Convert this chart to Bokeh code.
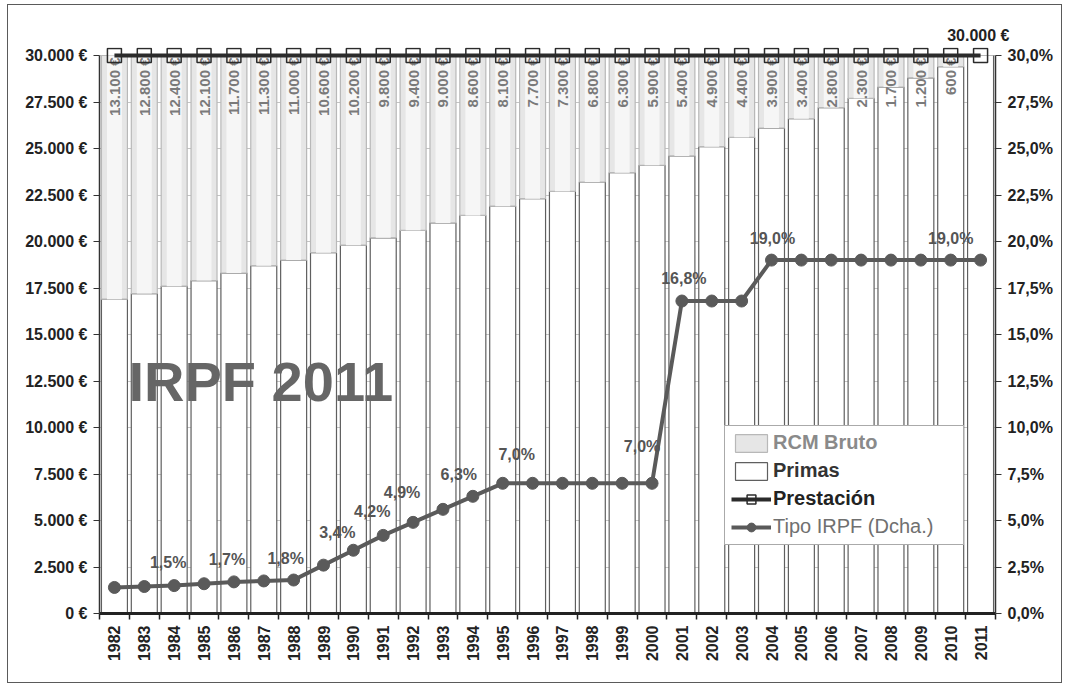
import math
from bokeh.plotting import figure
from bokeh.models import (ColumnDataSource, Range1d, LinearAxis, FixedTicker,
                          CustomJSTickFormatter, Legend, LegendItem, Label, Title)
from bokeh.core.properties import value
from bokeh.embed import file_html
from bokeh.resources import INLINE

# ---------------- data ----------------
years = [str(y) for y in range(1982, 2012)]
primas = [16900, 17200, 17600, 17900, 18300, 18700, 19000, 19400, 19800, 20200,
          20600, 21000, 21400, 21900, 22300, 22700, 23200, 23700, 24100, 24600,
          25100, 25600, 26100, 26600, 27200, 27700, 28300, 28800, 29400, 30000]
rcm_bruto = [13100, 12800, 12400, 12100, 11700, 11300, 11000, 10600, 10200, 9800,
             9400, 9000, 8600, 8100, 7700, 7300, 6800, 6300, 5900, 5400,
             4900, 4400, 3900, 3400, 2800, 2300, 1700, 1200, 600, 0]
prestacion = [30000] * 30
tipo_irpf = [1.4, 1.45, 1.5, 1.6, 1.7, 1.75, 1.8, 2.6, 3.4, 4.2,
             4.9, 5.6, 6.3, 7.0, 7.0, 7.0, 7.0, 7.0, 7.0, 16.8,
             16.8, 16.8, 19.0, 19.0, 19.0, 19.0, 19.0, 19.0, 19.0, 19.0]
tipo_label_years = ["1984", "1986", "1988", "1990", "1991", "1992", "1994",
                    "1995", "2000", "2001", "2004", "2010"]
left_ticks = [0, 2500, 5000, 7500, 10000, 12500, 15000, 17500, 20000,
              22500, 25000, 27500, 30000]
right_ticks = [0.0, 2.5, 5.0, 7.5, 10.0, 12.5, 15.0, 17.5, 20.0, 22.5, 25.0, 27.5, 30.0]

FONT = "Liberation Sans"


def eur(v):
    return f"{v:,}".replace(",", ".") + " €"


def pct(v):
    return f"{v:.1f}".replace(".", ",") + "%"


n = len(years)
x_pos = [i + 0.5 for i in range(n)]
total = [a + b for a, b in zip(primas, rcm_bruto)]

W, H = 1055, 679
MB_L, MB_R, MB_T, MB_B = 91, 68, 42, 71
frame_h = H - MB_T - MB_B
y_end = 30000 * frame_h / 558.0
pct_end = 30.0 * frame_h / 558.0

src = ColumnDataSource(dict(x=x_pos, year=years, primas=primas, rcm=rcm_bruto,
                            total=total, prest=prestacion, tipo=tipo_irpf))

p = figure(width=W, height=H, x_range=Range1d(0, n), y_range=Range1d(0, y_end),
           output_backend="svg", toolbar_location=None,
           min_border_left=MB_L, min_border_right=MB_R, min_border_top=MB_T,
           min_border_bottom=MB_B)
p.extra_y_ranges = {"pct": Range1d(0, pct_end)}
p.styles = {"border": "1px solid #5a5a5a", "margin": "4px 0px 0px 7px"}
p.outline_line_color = None
p.background_fill_color = "white"
p.border_fill_color = "white"

# ---------------- bars ----------------
r_prim = p.vbar(x="x", bottom=0, top="primas", width=0.87, source=src,
                fill_color="white", line_color="#5f5f5f", line_width=1.2)
r_rcm = p.vbar(x="x", bottom="primas", top="total", width=0.87, source=src,
               fill_color="#e6e6e6", line_color="#b8b8b8", line_width=1.2)
p.vbar(x="x", bottom="primas", top="total", width=0.5, source=src,
       fill_color="#f6f6f6", line_color=None)

# RCM value labels (vertical)
lab_idx = [i for i in range(n) if rcm_bruto[i] > 0]
src_rcm = ColumnDataSource(dict(x=[x_pos[i] for i in lab_idx],
                                y=[total[i] for i in lab_idx],
                                t=[eur(rcm_bruto[i]) for i in lab_idx]))
p.text(x="x", y="y", text="t", source=src_rcm, angle=math.pi / 2,
       text_align="right", text_baseline="middle", y_offset=2,
       text_font=value(FONT), text_font_size="15px", text_font_style="bold",
       text_color="#7a7a7a")

# ---------------- Prestación ----------------
r_pl = p.line("x", "prest", source=src, line_color="#2b2b2b", line_width=4)
r_ps = p.scatter("x", "prest", source=src, marker="square", size=14,
                 fill_color=None, line_color="#2b2b2b", line_width=1.5)

# value label of the last Prestación point (sits above the plot frame)
p.add_layout(Title(text=eur(prestacion[-1]), align="right", offset=-14, standoff=8,
                   text_font=FONT, text_font_size="16px", text_font_style="bold",
                   text_color="#222222"), "above")

# ---------------- Tipo IRPF ----------------
r_tl = p.line("x", "tipo", source=src, y_range_name="pct", line_color="#5a5a5a", line_width=4)
r_tc = p.scatter("x", "tipo", source=src, y_range_name="pct", marker="circle", size=12,
                 fill_color="#5a5a5a", line_color="#5a5a5a")

# percentage labels with small placement offsets (px)
lab_dx = [-6, -7, -8, -16, -11, -11, -14, 14, -10, 2, 1, 0]
lab_dy = [-23, -22, -22, -18, -24, -30, -22, -29, -37, -23, -22, -22]
pidx = [years.index(y) for y in tipo_label_years]
src_pct = ColumnDataSource(dict(x=[x_pos[i] for i in pidx],
                                y=[tipo_irpf[i] for i in pidx],
                                t=[pct(tipo_irpf[i]) for i in pidx],
                                dx=lab_dx, dy=lab_dy))
p.text(x="x", y="y", text="t", source=src_pct, y_range_name="pct",
       x_offset="dx", y_offset="dy", text_align="center", text_baseline="middle",
       text_font=value(FONT), text_font_size="16px", text_font_style="bold",
       text_color="#555555")

# Big title inside the plot
p.add_layout(Label(x=5.4, y=12500, text="IRPF 2011", text_align="center", text_baseline="middle",
                   text_font=FONT, text_font_size="56px", text_font_style="bold",
                   text_color="#666666"))

# ---------------- axes ----------------
yl = p.yaxis[0]
yl.ticker = FixedTicker(ticks=left_ticks)
yl.bounds = (0, 30000)
yl.formatter = CustomJSTickFormatter(code="""
const s = Math.round(tick).toString().replace(/\\B(?=(\\d{3})+(?!\\d))/g, '.');
return s + ' €';""")
yr = LinearAxis(y_range_name="pct", ticker=FixedTicker(ticks=right_ticks), bounds=(0, 30))
yr.formatter = CustomJSTickFormatter(code="return tick.toFixed(1).replace('.', ',') + '%';")
p.add_layout(yr, "right")

for ax in (yl, yr):
    ax.axis_line_color = "#333333"
    ax.axis_line_width = 1.5
    ax.major_tick_line_color = "#333333"
    ax.major_tick_out = 6
    ax.major_tick_in = 0
    ax.minor_tick_line_color = None
    ax.major_label_text_font = FONT
    ax.major_label_text_font_size = "16px"
    ax.major_label_text_font_style = "bold"
    ax.major_label_text_color = "#222222"
    ax.major_label_standoff = 6

xa = p.xaxis[0]
xa.ticker = FixedTicker(ticks=x_pos, minor_ticks=list(range(n + 1)))
xa.formatter = CustomJSTickFormatter(args=dict(years=years),
                                     code="return years[Math.floor(tick)];")
xa.major_label_orientation = math.pi / 2
xa.major_tick_line_color = None
xa.minor_tick_line_color = "#222222"
xa.minor_tick_line_width = 1.5
xa.minor_tick_out = 6
xa.minor_tick_in = 0
xa.axis_line_color = "#222222"
xa.axis_line_width = 3
xa.major_label_text_font = FONT
xa.major_label_text_font_size = "16px"
xa.major_label_text_font_style = "bold"
xa.major_label_text_color = "#222222"
xa.major_label_standoff = 6

p.xgrid.visible = False
p.ygrid.ticker = FixedTicker(ticks=left_ticks)
p.ygrid.grid_line_color = "#c4c4c4"

# ---------------- legend ----------------
# Box with glyphs (blank labels), then one overlay per entry carrying its own text style.
PAD, SPC, ITEM_H = 6, 6, 22
STEP = ITEM_H + SPC
LX, LY = 625, 68          # bottom-left of legend box, relative to frame
HA = 2 * PAD + 4 * ITEM_H + 3 * SPC
HB = 2 * PAD + ITEM_H
FIX = 7                   # measured correction between the one-item and four-item boxes
leg_kw = dict(padding=PAD, spacing=SPC, margin=0, glyph_width=40, glyph_height=ITEM_H,
              label_height=ITEM_H, label_standoff=9, label_text_font=FONT,
              label_text_font_size="20px")
legA = Legend(items=[LegendItem(label=" ", renderers=[r_rcm]),
                     LegendItem(label=" ", renderers=[r_prim]),
                     LegendItem(label=" ", renderers=[r_pl, r_ps]),
                     LegendItem(label=" ", renderers=[r_tl, r_tc])],
              location=(LX, LY), label_width=177,
              border_line_color="#555555", border_line_width=1,
              background_fill_color="white", background_fill_alpha=1, **leg_kw)
p.add_layout(legA)

dummy = p.scatter(x=[], y=[], alpha=0)
leg_styles = [("RCM Bruto", "bold", "#8a8a8a"), ("Primas", "bold", "#333333"),
              ("Prestación", "bold", "#222222"), ("Tipo IRPF (Dcha.)", "normal", "#707070")]
for i, (lab, fs, col) in enumerate(leg_styles):
    lg = Legend(items=[LegendItem(label=lab, renderers=[dummy])],
                location=(LX, LY + HA - i * STEP - HB + FIX),
                border_line_color=None, background_fill_alpha=0,
                label_text_font_style=fs, label_text_color=col, **leg_kw)
    p.add_layout(lg)

open("out.html", "w").write(file_html(p, INLINE))
